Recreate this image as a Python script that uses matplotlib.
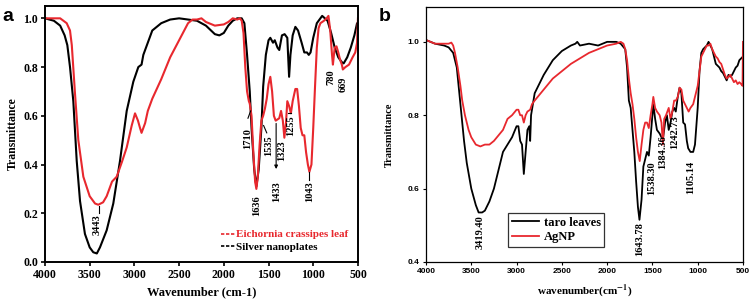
import matplotlib
matplotlib.use("Agg")
import matplotlib.pyplot as plt
from matplotlib.lines import Line2D
import numpy as np

plt.rcParams["mathtext.fontset"] = "stix"

# ---------------- Panel a data ----------------
a_black_x = [4000, 3900, 3830, 3780, 3750, 3720, 3683, 3645, 3608, 3553, 3500, 3460, 3420, 3385, 3310,
             3236, 3161, 3086, 3012, 2956, 2920, 2900, 2850, 2800, 2700, 2600, 2500, 2400, 2300, 2200, 2100,
             2050, 2000, 1950, 1900, 1850, 1800, 1770, 1740, 1710, 1690, 1660, 1636, 1610, 1580, 1560,
             1530, 1500, 1480, 1450, 1430, 1400, 1380, 1350, 1320, 1290, 1270, 1255, 1230, 1200, 1170,
             1130, 1100, 1070, 1050, 1030, 1000, 960, 920, 900, 870, 840, 800, 760, 720, 680, 660, 620,
             580, 540, 510, 500]
a_black_y = [1.0, 0.99, 0.97, 0.93, 0.89, 0.80, 0.66, 0.415, 0.25, 0.115, 0.06, 0.04, 0.035, 0.06, 0.13,
             0.24, 0.415, 0.62, 0.74, 0.80, 0.81, 0.85, 0.90, 0.95, 0.98, 0.995, 1.0, 0.995, 0.99, 0.97, 0.935,
             0.93, 0.94, 0.97, 0.99, 1.0, 1.0, 0.98, 0.85, 0.70, 0.55, 0.38, 0.31, 0.38, 0.55, 0.72,
             0.85, 0.91, 0.92, 0.90, 0.91, 0.88, 0.87, 0.93, 0.935, 0.92, 0.76, 0.85, 0.93, 0.965, 0.95,
             0.90, 0.86, 0.86, 0.85, 0.86, 0.92, 0.98, 1.0, 1.01, 1.0, 0.99, 0.94, 0.88, 0.84, 0.82, 0.815, 0.84,
             0.88, 0.93, 0.98, 0.97]

a_red_x = [4000, 3900, 3830, 3757, 3720, 3700, 3664, 3627, 3571, 3500, 3440, 3404, 3350, 3310,
           3250, 3198, 3140, 3086, 3030, 2993, 2960, 2937, 2920, 2880, 2850, 2800, 2700, 2600, 2500,
           2400, 2350, 2300, 2250, 2200, 2100, 2000, 1950, 1900, 1850, 1820, 1800, 1780, 1760, 1740,
           1720, 1710, 1690, 1670, 1650, 1636, 1620, 1600, 1580, 1560, 1540, 1520, 1500, 1480, 1460,
           1440, 1420, 1400, 1380, 1360, 1340, 1323, 1305, 1290, 1270, 1250, 1230, 1200, 1180, 1160,
           1140, 1120, 1100, 1080, 1060, 1043, 1020, 1000, 980, 960, 940, 920, 900, 880, 850, 830,
           810, 790, 780, 760, 740, 720, 700, 680, 669, 640, 600, 560, 530, 510, 500]
a_red_y = [1.0, 1.0, 1.0, 0.98, 0.95, 0.89, 0.69, 0.50, 0.35, 0.27, 0.24, 0.235, 0.245, 0.27,
           0.33, 0.35, 0.41, 0.47, 0.56, 0.61, 0.58, 0.55, 0.53, 0.57, 0.62, 0.67, 0.75, 0.84, 0.91,
           0.98, 0.995, 0.995, 1.0, 0.985, 0.97, 0.975, 0.985, 1.0, 0.995, 1.0, 0.99, 0.94, 0.80, 0.70,
           0.66, 0.65, 0.60, 0.45, 0.33, 0.30, 0.35, 0.48, 0.58, 0.60, 0.63, 0.67, 0.73, 0.76, 0.70,
           0.60, 0.58, 0.585, 0.59, 0.62, 0.58, 0.51, 0.57, 0.66, 0.64, 0.61, 0.66, 0.71, 0.71, 0.64,
           0.55, 0.52, 0.52, 0.45, 0.40, 0.37, 0.40, 0.55, 0.72, 0.88, 0.96, 0.98, 0.985, 0.99, 1.0, 1.01,
           0.95, 0.85, 0.81, 0.88, 0.885, 0.86, 0.83, 0.81, 0.79, 0.80, 0.81, 0.84, 0.86, 0.90, 1.0]

a_labels = ["Eichornia crassipes leaf", "Silver nanoplates"]

# ---------------- Panel b data ----------------
b_black_x = [4000, 3900, 3800, 3750, 3700, 3660, 3640, 3620, 3600, 3580, 3550, 3500, 3450, 3419, 3380,
             3350, 3300, 3250, 3200, 3150, 3100, 3050, 3000, 2980, 2960, 2940, 2920, 2900, 2880, 2860,
             2850, 2840, 2800, 2700, 2600, 2500, 2400, 2350, 2330, 2300, 2200, 2100, 2000, 1900, 1850,
             1800, 1780, 1760, 1740, 1720, 1700, 1680, 1660, 1643, 1620, 1600, 1580, 1560, 1540, 1520,
             1500, 1490, 1470, 1450, 1420, 1400, 1384, 1360, 1340, 1320, 1300, 1280, 1260, 1242, 1220,
             1200, 1180, 1160, 1140, 1120, 1105, 1080, 1050, 1030, 1000, 980, 960, 940, 900, 880, 860,
             840, 820, 800, 780, 760, 740, 720, 700, 680, 660, 640, 620, 600, 580, 560, 540, 520, 500]
b_black_y = [1.005, 0.995, 0.99, 0.985, 0.97, 0.93, 0.88, 0.83, 0.78, 0.73, 0.67, 0.60, 0.555, 0.535, 0.535,
             0.54, 0.565, 0.60, 0.65, 0.70, 0.72, 0.74, 0.77, 0.77, 0.73, 0.72, 0.64, 0.70, 0.76, 0.77,
             0.73, 0.80, 0.86, 0.91, 0.95, 0.975, 0.99, 0.995, 1.0, 0.99, 0.995, 0.99, 1.0, 1.0, 0.995,
             0.98, 0.93, 0.84, 0.82, 0.76, 0.70, 0.62, 0.55, 0.515, 0.57, 0.66, 0.68, 0.70, 0.69, 0.74,
             0.80, 0.83, 0.79, 0.76, 0.75, 0.74, 0.735, 0.78, 0.80, 0.76, 0.78, 0.81, 0.82, 0.81, 0.85,
             0.875, 0.86, 0.78, 0.775, 0.73, 0.71, 0.70, 0.70, 0.72, 0.82, 0.92, 0.97, 0.98, 0.99, 1.0, 0.99,
             0.98, 0.96, 0.94, 0.935, 0.93, 0.92, 0.915, 0.905, 0.895, 0.91, 0.905, 0.91, 0.92, 0.93, 0.935,
             0.95, 0.955, 0.96]

b_red_x = [4000, 3900, 3800, 3750, 3720, 3700, 3680, 3650, 3620, 3600, 3570, 3530, 3500, 3450, 3400,
           3350, 3300, 3250, 3200, 3150, 3100, 3050, 3000, 2980, 2960, 2940, 2920, 2900, 2880, 2850,
           2830, 2800, 2700, 2600, 2500, 2400, 2300, 2200, 2100, 2000, 1900, 1850, 1820, 1800, 1780,
           1760, 1740, 1720, 1700, 1680, 1660, 1640, 1620, 1600, 1580, 1560, 1540, 1520, 1500, 1490,
           1470, 1450, 1420, 1400, 1384, 1370, 1350, 1320, 1300, 1280, 1260, 1240, 1220, 1200, 1180,
           1160, 1140, 1120, 1100, 1080, 1050, 1020, 1000, 980, 960, 940, 900, 880, 860, 840, 820, 800,
           780, 760, 740, 720, 700, 680, 660, 640, 620, 600, 580, 560, 540, 520, 505, 500]
b_red_y = [1.005, 0.995, 0.995, 0.995, 0.998, 0.99, 0.97, 0.93, 0.88, 0.84, 0.80, 0.76, 0.74, 0.72, 0.715,
           0.72, 0.72, 0.73, 0.745, 0.76, 0.79, 0.80, 0.815, 0.815, 0.80, 0.80, 0.78, 0.80, 0.81, 0.815,
           0.83, 0.84, 0.87, 0.90, 0.92, 0.94, 0.955, 0.97, 0.98, 0.99, 0.995, 1.0, 0.995, 0.98, 0.95,
           0.90, 0.86, 0.83, 0.79, 0.74, 0.70, 0.675, 0.72, 0.76, 0.78, 0.78, 0.765, 0.80, 0.83, 0.85,
           0.82, 0.81, 0.80, 0.78, 0.72, 0.79, 0.80, 0.82, 0.79, 0.81, 0.84, 0.84, 0.85, 0.875, 0.87,
           0.84, 0.83, 0.82, 0.81, 0.82, 0.83, 0.86, 0.88, 0.92, 0.96, 0.97, 0.99, 0.99, 0.995, 0.98, 0.97, 0.96,
           0.955, 0.945, 0.94, 0.925, 0.91, 0.90, 0.905, 0.91, 0.90, 0.89, 0.895, 0.885, 0.89, 0.885, 0.88, 1.0]

b_labels = ["taro leaves", "AgNP"]

RED = "#e8282e"
SERIF = "Liberation Serif"

fig = plt.figure(figsize=(7.52, 3.07), dpi=100)
axa = fig.add_axes([0.0598, 0.1466, 0.4162, 0.8334])
axb = fig.add_axes([0.5665, 0.1466, 0.4215, 0.8306])

# ---- panel a ----
axa.plot(a_black_x, a_black_y, color="black", lw=1.5)
axa.plot(a_red_x, a_red_y, color=RED, lw=1.5)
axa.set_xlim(4000, 500)
axa.set_ylim(0, 1.05)
axa.set_xticks([4000, 3500, 3000, 2500, 2000, 1500, 1000, 500])
axa.set_yticks([0.0, 0.2, 0.4, 0.6, 0.8, 1.0])
axa.set_yticklabels(["0.0", "0.2", "0.4", "0.6", "0.8", "1.0"])
for s in axa.spines.values():
    s.set_linewidth(1.4)
axa.tick_params(direction="out", length=3, width=1.2, labelsize=8.5, pad=2)
for lab in axa.get_xticklabels() + axa.get_yticklabels():
    lab.set_fontfamily(SERIF)
    lab.set_fontweight("bold")
axa.set_xlabel("Wavenumber (cm-1)", fontfamily=SERIF, fontweight="bold", fontsize=9, labelpad=4)
axa.set_ylabel("Transmittance", fontfamily=SERIF, fontweight="bold", fontsize=8.5, labelpad=3)

ann = dict(fontfamily=SERIF, fontweight="bold", fontsize=7.5, rotation=90, ha="center")
axa.text(3420, 0.195, "3443", va="top", **ann)
axa.plot([3400, 3400], [0.23, 0.2], color="black", lw=0.8)
axa.text(1636, 0.275, "1636", va="top", **ann)
axa.text(1405, 0.33, "1433", va="top", **ann)
axa.annotate("", xy=(1415, 0.37), xytext=(1415, 0.58),
             arrowprops=dict(arrowstyle="-|>", color="black", lw=0.8, mutation_scale=5))
axa.text(1043, 0.33, "1043", va="top", **ann)
axa.plot([1043, 1043], [0.37, 0.335], color="black", lw=0.8)
axa.text(1735, 0.55, "1710", va="top", **ann)
axa.plot([1730, 1700], [0.59, 0.62], color="black", lw=0.8)
axa.text(1495, 0.52, "1535", va="top", **ann)
axa.plot([1520, 1555], [0.53, 0.56], color="black", lw=0.8)
axa.text(1350, 0.50, "1323", va="top", **ann)
axa.text(1255, 0.60, "1255", va="top", **ann)
axa.plot([1280, 1250], [0.61, 0.61], color="black", lw=0.8)
axa.text(800, 0.79, "780", va="top", **ann)
axa.text(665, 0.76, "669", va="top", **ann)

ha = [Line2D([], [], color=RED, lw=1.2, ls=(0, (2, 1))),
      Line2D([], [], color="black", lw=1.2, ls=(0, (2, 1)))]
lega = axa.legend(ha, a_labels, loc="lower right", bbox_to_anchor=(1.0, 0.0), frameon=False,
                  handlelength=1.3, handletextpad=0.05, labelspacing=0.25, borderaxespad=0.5,
                  prop=dict(family=SERIF, weight="bold", size=8))
for t, c in zip(lega.get_texts(), [RED, "black"]):
    t.set_color(c)

# ---- panel b ----
axb.plot(b_black_x, b_black_y, color="black", lw=1.3)
axb.plot(b_red_x, b_red_y, color=RED, lw=1.3)
axb.set_xlim(4000, 500)
axb.set_ylim(0.4, 1.095)
axb.set_xticks([4000, 3500, 3000, 2500, 2000, 1500, 1000, 500])
axb.set_yticks([0.4, 0.6, 0.8, 1.0])
axb.set_yticklabels(["0.4", "0.6", "0.8", "1.0"])
for s in axb.spines.values():
    s.set_linewidth(0.9)
axb.tick_params(direction="out", length=2.5, width=0.8, labelsize=6, pad=2)
for lab in axb.get_xticklabels() + axb.get_yticklabels():
    lab.set_fontfamily("Liberation Sans")
    lab.set_fontweight("bold")
axb.set_xlabel("wavenumber(cm$^{\\mathbf{-1}}$)", fontfamily=SERIF, fontweight="bold", fontsize=8, labelpad=5)
axb.set_ylabel("Transmittance", fontfamily=SERIF, fontweight="bold", fontsize=7.5, labelpad=10)

annb = dict(fontfamily=SERIF, fontweight="bold", fontsize=7.5, rotation=90, ha="center", va="top")
axb.text(3400, 0.528, "3419.40", **annb)
axb.text(1643, 0.508, "1643.78", **annb)
axb.text(1505, 0.675, "1538.30", **annb)
axb.text(1385, 0.745, "1384.36", **annb)
axb.text(1250, 0.80, "1242.73", **annb)
axb.text(1075, 0.675, "1105.14", **annb)

legb = axb.legend(b_labels, loc="upper left", bbox_to_anchor=(0.259, 0.192), frameon=True,
                  fancybox=False, edgecolor="black", handlelength=2.2, handletextpad=0.35,
                  labelspacing=0.2, borderpad=0.3, borderaxespad=0.0,
                  prop=dict(family=SERIF, weight="bold", size=9))
legb.get_frame().set_linewidth(0.9)

fig.text(0.003, 0.975, "a", fontsize=14, fontweight="bold", family="Liberation Sans", va="top")
fig.text(0.503, 0.975, "b", fontsize=14, fontweight="bold", family="Liberation Sans", va="top")

fig.savefig("out.png", dpi=100)
